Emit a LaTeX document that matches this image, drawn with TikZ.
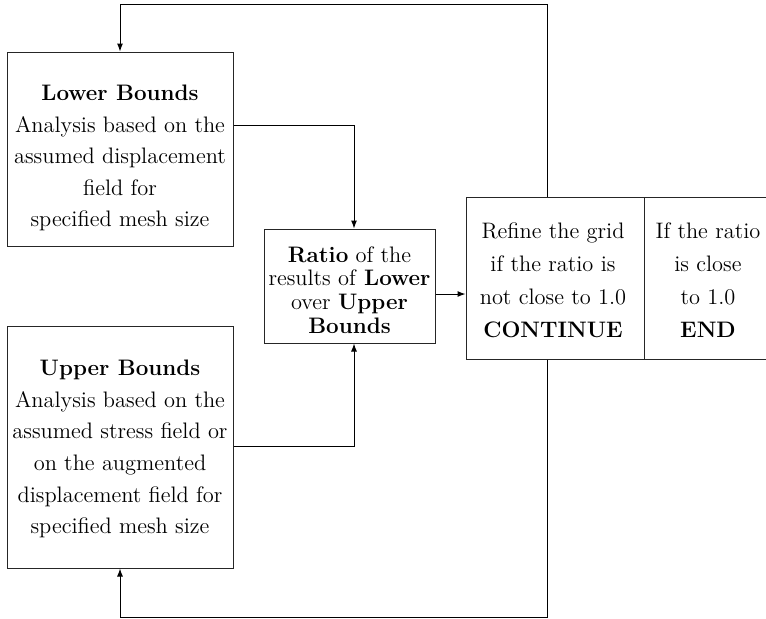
\documentclass[tikz,border=0pt]{standalone}
\usetikzlibrary{arrows.meta}
\begin{document}
\begin{tikzpicture}[x=0.5pt,y=-0.5pt,
  box/.style={draw=black!85,line width=0.5pt,rectangle,inner sep=0pt},
  txt/.style={align=center,inner sep=0pt,font=\fontsize{11.2}{15.8}\selectfont},
  arr/.style={line width=0.5pt,-{Latex[length=4pt,width=3pt]}}]
\useasboundingbox (0,0) rectangle (766,618);
% boxes
\node[box,minimum width=113pt,minimum height=97pt] (low) at (120,149) {};
\node[txt] (lowtxt) at (120,158) {\textbf{Lower Bounds}\\Analysis based on the\\assumed displacement\\field for\\specified mesh size};
\node[box,minimum width=113pt,minimum height=121pt] (up) at (120,447) {};
\node[txt] (uptxt) at (120,449) {\textbf{Upper Bounds}\\Analysis based on the\\assumed stress field or\\on the augmented\\displacement field for\\specified mesh size};
\node[box,minimum width=85.5pt,minimum height=57pt] (ratio) at (349.5,286) {};
\node[txt,font=\fontsize{11.2}{11.85}\selectfont] (ratiotxt) at (349.5,290) {\textbf{Ratio} of the\\results of \textbf{Lower}\\over \textbf{Upper}\\\textbf{Bounds}};
\node[box,minimum width=89pt,minimum height=81pt] (refine) at (555,278) {};
\node[txt,font=\fontsize{11.2}{16.5}\selectfont] (refinetxt) at (553,280) {Refine the grid\\if the ratio is\\not close to 1.0\\\textbf{CONTINUE}};
\node[box,minimum width=64pt,minimum height=81pt] (endc) at (708,278) {};
\node[txt,font=\fontsize{11.2}{16.5}\selectfont] (endtxt) at (708,280) {If the ratio\\is close\\to 1.0\\\textbf{END}};
% connectors
\coordinate (lj) at (354,125);
\coordinate (uj) at (354,446);
\coordinate (mj) at (0,294);
\coordinate (tl) at (547,4);
\coordinate (bl) at (547,617);
\draw[arr] (low.east |- lj) -- (lj) -- (lj |- ratio.north);
\draw[arr] (up.east |- uj) -- (uj) -- (uj |- ratio.south);
\draw[arr] (ratio.east |- mj) -- (refine.west |- mj);
\draw[arr] (refine.north -| tl) -- (tl) -| (low.north);
\draw[arr] (refine.south -| bl) -- (bl) -| (up.south);
\end{tikzpicture}
\end{document}
